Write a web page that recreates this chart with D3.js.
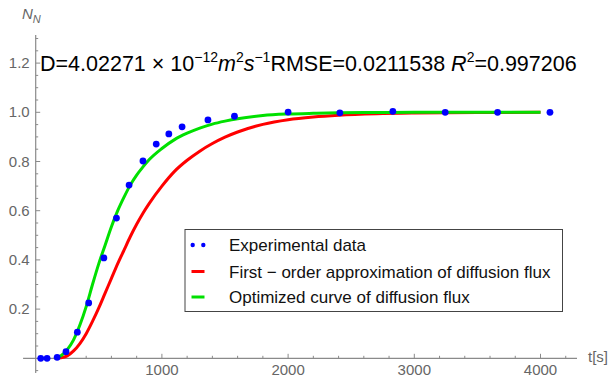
<!DOCTYPE html>
<html>
<head>
<meta charset="utf-8">
<script src="https://cdn.jsdelivr.net/npm/d3@7"></script>
<style>
  body { margin: 0; background: #fff; }
  svg { font-family: "Liberation Sans", Arial, sans-serif; }
</style>
</head>
<body>
<div id="chart"></div>
<script>
// === DATA ===
const expT = [40, 90, 170, 240, 330, 420, 540, 640, 740, 850, 955, 1055, 1160, 1365, 1575, 2000, 2410, 2830, 3245, 3660, 4075];
const expN = [0, 0, 0.004, 0.027, 0.106, 0.225, 0.408, 0.570, 0.704, 0.802, 0.871, 0.912, 0.941, 0.969, 0.984, 1.001, 0.998, 1.004, 1.0, 1.0, 1.0];

const curveT = [150, 200, 250, 300, 350, 400, 450, 500, 550, 600, 650, 700, 750, 800, 850, 900, 1000, 1100, 1200, 1300, 1400, 1500, 1600, 1800, 2000, 2200, 2400, 2700, 3000, 3500, 4000];
const firstOrderN = [0, 0.002, 0.01, 0.03, 0.06, 0.10, 0.15, 0.205, 0.265, 0.325, 0.385, 0.44, 0.495, 0.545, 0.59, 0.63, 0.70, 0.76, 0.805, 0.842, 0.873, 0.899, 0.92, 0.951, 0.970, 0.981, 0.988, 0.994, 0.997, 0.999, 1.0];
const optimizedN = [0, 0.01, 0.035, 0.075, 0.135, 0.21, 0.30, 0.385, 0.46, 0.535, 0.60, 0.655, 0.705, 0.745, 0.778, 0.808, 0.853, 0.889, 0.915, 0.936, 0.952, 0.964, 0.974, 0.987, 0.993, 0.996, 0.998, 0.999, 1.0, 1.0, 1.0];

const xTicks = [1000, 2000, 3000, 4000];
const yTicks = [0.2, 0.4, 0.6, 0.8, 1.0, 1.2];
const legendLabels = ["Experimental data", "First \u2212 order approximation of diffusion flux", "Optimized curve of diffusion flux"];

// === SETUP ===
const W = 614, H = 380;
const svg = d3.select("#chart").append("svg").attr("width", W).attr("height", H);

const x = d3.scaleLinear().domain([0, 4000]).range([35.7, 540.5]);
const y = d3.scaleLinear().domain([0, 1]).range([358.3, 112.3]);

const axisColor = "#8a8a8a";
const labelColor = "#666";

// === AXES ===
svg.append("line")
  .attr("x1", x(-100)).attr("x2", 577)
  .attr("y1", y(0)).attr("y2", y(0))
  .attr("stroke", axisColor).attr("stroke-width", 1.2);
svg.append("line")
  .attr("x1", x(0)).attr("x2", x(0))
  .attr("y1", 35).attr("y2", 373)
  .attr("stroke", axisColor).attr("stroke-width", 1.2);

// x ticks (major + minor)
const xMinor = d3.range(200, 4300, 200).filter(v => v % 1000 !== 0);
svg.selectAll(".xminor").data(xMinor).join("line")
  .attr("x1", d => x(d)).attr("x2", d => x(d))
  .attr("y1", y(0)).attr("y2", y(0) - 2.5)
  .attr("stroke", axisColor);
svg.selectAll(".xmajor").data(xTicks).join("line")
  .attr("x1", d => x(d)).attr("x2", d => x(d))
  .attr("y1", y(0)).attr("y2", y(0) - 4.5)
  .attr("stroke", axisColor);
svg.selectAll(".xlab").data(xTicks).join("text")
  .attr("x", d => x(d)).attr("y", 375)
  .attr("text-anchor", "middle")
  .attr("font-size", 15).attr("fill", labelColor)
  .text(d => d);

// y ticks
const yMinor = d3.range(-0.05, 1.31, 0.05).filter(v => Math.abs(Math.round(v * 5) - v * 5) > 0.01);
svg.selectAll(".yminor").data(yMinor).join("line")
  .attr("x1", x(0)).attr("x2", x(0) + 2.5)
  .attr("y1", d => y(d)).attr("y2", d => y(d))
  .attr("stroke", axisColor);
svg.selectAll(".ymajor").data(yTicks).join("line")
  .attr("x1", x(0)).attr("x2", x(0) + 4.5)
  .attr("y1", d => y(d)).attr("y2", d => y(d))
  .attr("stroke", axisColor);
svg.selectAll(".ylab").data(yTicks).join("text")
  .attr("x", x(0) - 6).attr("y", d => y(d) + 5)
  .attr("text-anchor", "end")
  .attr("font-size", 15).attr("fill", labelColor)
  .text(d => d.toFixed(1));

// axis labels
const yl = svg.append("text").attr("x", 22).attr("y", 19)
  .attr("font-size", 15).attr("fill", labelColor);
yl.append("tspan").attr("font-style", "italic").text("N");
yl.append("tspan").attr("font-style", "italic").attr("font-size", 11).attr("dy", 4).text("N");

svg.append("text").attr("x", 588).attr("y", 362)
  .attr("font-size", 15).attr("fill", labelColor).text("t[s]");

// === CURVES ===
const line = d3.line().x(d => x(d[0])).y(d => y(d[1])).curve(d3.curveMonotoneX);
svg.append("path")
  .datum(curveT.map((t, i) => [t, firstOrderN[i]]))
  .attr("d", line).attr("fill", "none")
  .attr("stroke", "#ff0000").attr("stroke-width", 3);
svg.append("path")
  .datum(curveT.map((t, i) => [t, optimizedN[i]]))
  .attr("d", line).attr("fill", "none")
  .attr("stroke", "#00e000").attr("stroke-width", 3);

svg.selectAll(".pt").data(expT.map((t, i) => [t, expN[i]])).join("circle")
  .attr("cx", d => x(d[0])).attr("cy", d => y(d[1]))
  .attr("r", 3.4).attr("fill", "#0000ff");

// === HEADER TEXT ===
const hdr = svg.append("text").attr("x", 40).attr("y", 71)
  .attr("font-size", 21.5).attr("fill", "#000");
hdr.append("tspan").text("D=4.02271 \u00d7 10");
hdr.append("tspan").attr("font-size", 14).attr("dy", -9).text("\u221212");
hdr.append("tspan").attr("font-style", "italic").attr("dy", 9).text("m");
hdr.append("tspan").attr("font-size", 14).attr("dy", -9).text("2");
hdr.append("tspan").attr("font-style", "italic").attr("dy", 9).text("s");
hdr.append("tspan").attr("font-size", 14).attr("dy", -9).text("\u22121");
hdr.append("tspan").attr("dy", 9).text("RMSE=0.0211538 ");
hdr.append("tspan").attr("font-style", "italic").text("R");
hdr.append("tspan").attr("font-size", 14).attr("dy", -9).text("2");
hdr.append("tspan").attr("dy", 9).text("=0.997206");

// === LEGEND ===
const lg = svg.append("g");
lg.append("rect").attr("x", 185).attr("y", 229.5).attr("width", 377.5).attr("height", 82)
  .attr("fill", "#fff").attr("stroke", "#444").attr("stroke-width", 1);
const rowY = [245, 271.5, 297];
lg.selectAll(".dot").data([192.7, 203.3]).join("circle")
  .attr("cx", d => d).attr("cy", rowY[0]).attr("r", 2.2).attr("fill", "#0000ff");
lg.append("line").attr("x1", 191.5).attr("x2", 204.5).attr("y1", rowY[1]).attr("y2", rowY[1])
  .attr("stroke", "#ff0000").attr("stroke-width", 3);
lg.append("line").attr("x1", 191.5).attr("x2", 204.5).attr("y1", rowY[2]).attr("y2", rowY[2])
  .attr("stroke", "#00e000").attr("stroke-width", 3);
lg.selectAll(".lt").data(legendLabels).join("text")
  .attr("x", 229).attr("y", (d, i) => rowY[i] + 6)
  .attr("font-size", 17).attr("fill", "#111")
  .text(d => d);
</script>
</body>
</html>
